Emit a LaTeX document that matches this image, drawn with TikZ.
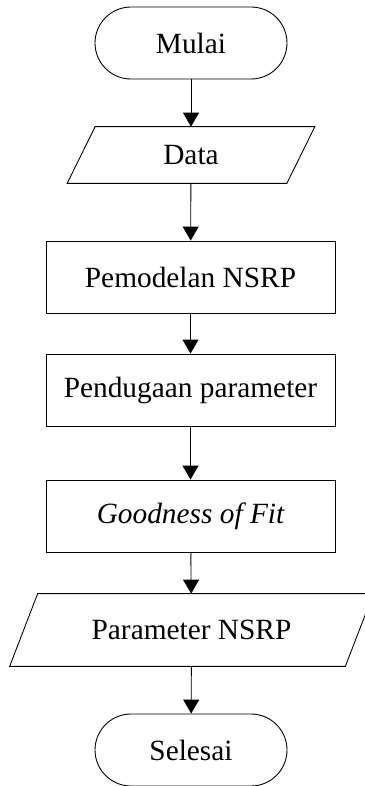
\documentclass[tikz,border=0pt]{standalone}
\usepackage{fontspec}
\setmainfont{Liberation Serif}
\usetikzlibrary{arrows.meta}
\begin{document}
\begin{tikzpicture}[>={Triangle[width=0.32cm,length=0.28cm]},x=1cm,y=1cm,
		every node/.style={font=\fontsize{16.7}{20}\selectfont},
		terminal/.style={draw,line width=0.5pt,rounded corners=0.72cm,minimum width=3.84cm,minimum height=1.44cm},
		proses/.style={draw,line width=0.5pt,minimum width=5.78cm,minimum height=1.44cm},
		io/.style={inner sep=0pt},
		panah/.style={->,line width=0.5pt}]
			\useasboundingbox (0,0) rectangle (7.3,-15.72);
			\node[terminal] (mulai) at (3.82,-0.86) {Mulai};
			\node[io,minimum width=3.82cm,minimum height=1.12cm] (data) at (3.82,-3.10) {Data};
			\node[proses] (model) at (3.81,-5.54) {Pemodelan NSRP};
			\node[proses] (duga) at (3.81,-7.80) {Pendugaan parameter};
			\node[proses] (gof) at (3.81,-10.32) {\itshape Goodness of Fit};
			\node[io,minimum width=6.14cm,minimum height=1.44cm] (param) at (3.83,-12.60) {Parameter NSRP};
			\node[terminal] (selesai) at (3.82,-15.00) {Selesai};
			% jajar genjang input/output
			\foreach \n in {data,param}
				\draw[line width=0.5pt] (\n.north west) -- ([xshift=0.56cm]\n.north east) -- (\n.south east) -- ([xshift=-0.56cm]\n.south west) -- cycle;
			% alur
			\draw[panah] (mulai) -- (data);
			\draw[panah] (data) -- (model);
			\draw[panah] (model) -- (duga);
			\draw[panah] (duga) -- (gof);
			\draw[panah] (gof) -- (param);
			\draw[panah] (param) -- (selesai);
	\end{tikzpicture}
\end{document}
